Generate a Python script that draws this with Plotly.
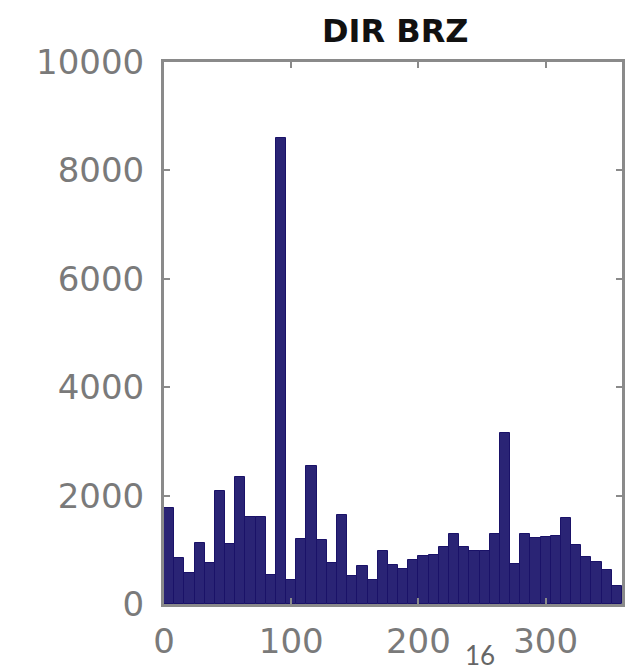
import numpy as np
import plotly.graph_objects as go

# Wind direction histogram: 45 bins of 8 degrees covering 0-360
bin_width = 8
bin_edges = np.arange(0, 361, bin_width)
bin_centers = (bin_edges[:-1] + bin_edges[1:]) / 2
counts = [
    1780, 850, 580, 1130, 760, 2080, 1100, 2350, 1600, 1600,
    540, 8600, 450, 1200, 2540, 1180, 750, 1640, 520, 700,
    450, 980, 720, 640, 820, 880, 900, 1050, 1300, 1060,
    980, 980, 1300, 3150, 740, 1300, 1220, 1230, 1260, 1580,
    1090, 870, 780, 630, 330,
]
x_ticks = [0, 100, 200, 300]
y_ticks = [0, 2000, 4000, 6000, 8000, 10000]
y_tick_text = ["0", "2000", "4000", "6000", "8000", "10000"]
title_text = "DIR BRZ"
page_number = "16"

fig = go.Figure()
fig.add_trace(go.Bar(
    x=bin_centers,
    y=counts,
    width=bin_width,
    marker=dict(color="#2a2475", line=dict(color="#1a1268", width=1)),
))

axis_line = "#8a8a8a"
tick_font = dict(family="DejaVu Sans", size=34, color="#7a7a7a")

fig.update_layout(
    width=635,
    height=671,
    margin=dict(l=164, r=10, t=62, b=67),
    paper_bgcolor="white",
    plot_bgcolor="white",
    showlegend=False,
    bargap=0,
    xaxis=dict(
        range=[0, 360],
        tickvals=x_ticks,
        ticks="inside",
        ticklen=6,
        tickcolor=axis_line,
        tickwidth=2,
        showline=True,
        linecolor=axis_line,
        linewidth=3,
        mirror="ticks",
        showgrid=False,
        zeroline=False,
        tickfont=tick_font,
        ticklabelstandoff=5,
    ),
    yaxis=dict(
        range=[0, 10000],
        tickvals=y_ticks,
        ticktext=y_tick_text,
        ticks="inside",
        ticklen=6,
        tickcolor=axis_line,
        tickwidth=2,
        showline=True,
        linecolor=axis_line,
        linewidth=3,
        mirror="ticks",
        showgrid=False,
        zeroline=False,
        tickfont=tick_font,
        ticklabelstandoff=10,
    ),
    annotations=[
        dict(
            text=title_text,
            x=0.505, y=1.0, xref="paper", yref="paper",
            xanchor="center", yanchor="bottom", yshift=10,
            showarrow=False,
            font=dict(family="DejaVu Sans", size=32, color="#111111", weight="bold"),
        ),
        dict(
            text=page_number,
            x=0.69, y=-0.094, xref="paper", yref="paper",
            xanchor="center", yanchor="middle",
            showarrow=False,
            font=dict(family="Lato", size=26, color="#666666"),
        ),
    ],
)

fig.write_html("out.html")
